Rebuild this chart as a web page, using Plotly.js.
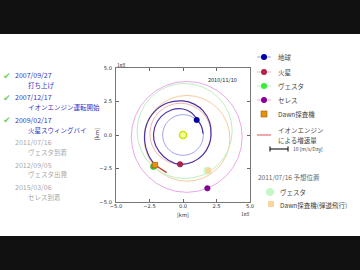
<!DOCTYPE html>
<html><head><meta charset="utf-8">
<script src="https://cdn.plot.ly/plotly-3.0.1.min.js"></script>
<style>html,body{margin:0;padding:0;background:#fff}#c{width:360px;height:270px}</style>
</head><body><div id="c"></div>
<script>
// ---- data (units: 1e8 km) ----
const orbitNames = ['地球','火星','Dawn弾道','ヴェスタ','セレス'];
const orbitCX = [0, -0.19, 0.30, 0.12, 0.28];
const orbitCY = [0, 0.09, -0.25, 0.30, -0.14];
const orbitR  = [1.52, 2.28, 3.20, 3.55, 4.14];
const orbitColors = ['#a4a4ec','#f2b4ae','#f6cc9e','#bdf0bd','#eaa8ea'];

const trajX = [1.496,1.378,1.057,0.609,0.000,-0.871,-1.639,-2.115,-2.167,-1.778,-1.085,-0.230,0.732,1.485,1.955,2.090,1.994,1.504,0.838,0.000,-1.120,-2.107,-2.734,-2.856,-2.581,-2.087];
const trajY = [0.105,0.642,1.174,1.673,1.940,1.867,1.376,0.567,-0.382,-1.245,-1.879,-2.188,-2.011,-1.485,-0.711,0.000,0.930,1.793,2.302,2.540,2.402,1.768,0.732,-0.504,-1.490,-2.238];

const thrustX = [-2.09,-1.22];
const thrustY = [-2.24,-2.81];

const sunPos = [0, 0];
const earthPos = [1.02, 1.12];
const marsPos = [-0.22, -2.19];
const vestaPos = [-2.21, -2.36];
const ceresPos = [1.82, -3.98];
const dawnPos = [-2.09, -2.24];
const vestaPredPos = [1.84, -2.66];
const dawnPredPos = [1.90, -2.66];

const tickVals = [-5, -2.5, 0, 2.5, 5];
const dateLabel = '2010/11/10';

const milestoneDates = ['2007/09/27','2007/12/17','2009/02/17','2011/07/16','2012/09/05','2015/03/06'];
const milestoneEvents = ['打ち上げ','イオンエンジン運転開始','火星スウィングバイ','ヴェスタ到着','ヴェスタ出発','セレス到着'];
const milestoneDone = [true,true,true,false,false,false];

const legendNames = ['地球','火星','ヴェスタ','セレス','Dawn探査機'];
const ionLabel = ['イオンエンジン','による増速量'];
const scaleLabel = '10 [m/s/Day]';
const predTitle = '2011/07/16 予想位置';
const predNames = ['ヴェスタ','Dawn探査機(弾道飛行)'];

// ---- build ----
const F = 'Noto Sans CJK JP, Noto Sans, sans-serif';
const traces = [];
function pt(p, sym, size, color, lc, lw){
  traces.push({x:[p[0]], y:[p[1]], mode:'markers', type:'scatter', showlegend:false, hoverinfo:'skip',
    marker:{symbol:sym, size:size, color:color, line:{color:lc, width:lw}}});
}
traces.push({x:trajX, y:trajY, mode:'lines', type:'scatter', showlegend:false, hoverinfo:'skip',
  line:{color:'#4a33a8', width:1.2, shape:'spline', smoothing:1}});
pt(vestaPredPos,'circle',8,'#c6f7c6','#c6f7c6',0);
pt(dawnPredPos,'square',5,'#f9d49c','#f9d49c',0);
pt(sunPos,'circle',7,'#f4ffa0','#c8e400',1.5);
pt(earthPos,'circle',5.5,'#0000a8','#000070',0.5);
pt(marsPos,'circle',5.5,'#b02250','#801030',0.5);
pt(ceresPos,'circle',5.5,'#880099','#550066',0.5);
pt(vestaPos,'circle',6,'#33cc33','#229922',0.5);
traces.push({x:thrustX, y:thrustY, mode:'lines', type:'scatter', showlegend:false, hoverinfo:'skip',
  line:{color:'#b8402a', width:1.3}});
pt(dawnPos,'square',5.5,'#e69010','#a05a00',0.6);

// legend overlay (pixel coordinate axes)
function lp(x,y,sym,size,color,lc,lw){
  traces.push({x:[x], y:[y], xaxis:'x2', yaxis:'y2', mode:'markers', type:'scatter', showlegend:false, hoverinfo:'skip', cliponaxis:false,
    marker:{symbol:sym,size:size,color:color,line:{color:lc,width:lw}}});
}
function ll(xs,ys,color,w){
  traces.push({x:xs, y:ys, xaxis:'x2', yaxis:'y2', mode:'lines', type:'scatter', showlegend:false, hoverinfo:'skip', cliponaxis:false,
    line:{color:color,width:w}});
}
const legY = [57, 72, 86, 100, 114];
const legMarkColors = ['#0000a8','#b02250','#33ee33','#880099'];
const legLineColors = ['#a4a4ec','#f2b4ae','#bdf0bd','#eaa8ea'];
for (let i=0;i<4;i++){ ll([257,271],[legY[i],legY[i]],legLineColors[i],1); lp(264,legY[i],'circle',6,legMarkColors[i],legMarkColors[i],0); }
lp(264,legY[4],'square',6,'#e69010','#a05a00',0.6);
ll([257,271],[135,135],'#e87878',1.3);
ll([270,288],[149,149],'#222',1.2);
ll([270,270],[146.5,151.5],'#222',1.2);
ll([288,288],[146.5,151.5],'#222',1.2);
lp(270,192,'circle',8,'#c6f7c6','#c6f7c6',0);
lp(271,204,'square',6,'#f9d49c','#f9d49c',0);

const shapes = [
  {type:'rect', xref:'paper', yref:'paper', x0:0, x1:1, y0:1-34/270, y1:1, fillcolor:'#111', line:{width:0}, layer:'below'},
  {type:'rect', xref:'paper', yref:'paper', x0:0, x1:1, y0:0, y1:1-236/270, fillcolor:'#111', line:{width:0}, layer:'below'}
];
for (let i=0;i<orbitR.length;i++){
  shapes.push({type:'circle', xref:'x', yref:'y', x0:orbitCX[i]-orbitR[i], x1:orbitCX[i]+orbitR[i],
    y0:orbitCY[i]-orbitR[i], y1:orbitCY[i]+orbitR[i], line:{color:orbitColors[i], width:1}, layer:'below'});
}

const ann = [];
function tx(x,y,t,size,color,anchor,angle){
  ann.push({xref:'x2', yref:'y2', x:x, y:y, text:t, showarrow:false, xanchor:anchor||'left', yanchor:'middle',
    font:{family:F, size:size, color:color}, textangle:angle||0, borderpad:0});
}
for (let i=0;i<milestoneDates.length;i++){
  const y = 75 + i*22.45;
  const c = milestoneDone[i] ? '#3434c4' : '#a8a8a8';
  if (milestoneDone[i]) tx(2, y, '✔', 9, '#6fd36f');
  tx(13.5, y, milestoneDates[i], 7, c);
  tx(27, y+9.6, milestoneEvents[i], 6.5, c);
}
for (let i=0;i<5;i++) tx(277, legY[i], legendNames[i], 6.5, '#444');
tx(277, 129.5, ionLabel[0], 6.5, '#444');
tx(277, 139.5, ionLabel[1], 6.5, '#444');
tx(292, 149, scaleLabel, 5, '#444');
tx(257, 176.5, predTitle, 6.5, '#666');
tx(279, 192, predNames[0], 6.5, '#444');
tx(279, 204.5, predNames[1], 6.5, '#444');
tx(238, 79.5, dateLabel, 5.5, '#222', 'right');
tx(116, 64, '1e8', 5, '#333');
tx(251, 213.5, '1e8', 5, '#333', 'right');
tx(183, 214.5, '[km]', 5.5, '#333', 'center');
tx(97, 134, '[km]', 5.5, '#333', 'center', -90);

const ax = {range:[-5,5], tickvals:tickVals, tickformat:'.1f', ticks:'inside', ticklen:3, tickcolor:'#666',
  mirror:'ticks', showline:true, linecolor:'#777', linewidth:1, showgrid:false, zeroline:false,
  tickfont:{family:'DejaVu Sans, sans-serif', size:5.2, color:'#333'}, fixedrange:true};
const layout = {
  width:360, height:270, margin:{l:0,r:0,t:0,b:0}, paper_bgcolor:'#fff', plot_bgcolor:'rgba(0,0,0,0)',
  showlegend:false,
  xaxis:Object.assign({domain:[116/360,250/360], anchor:'y', ticklabelstandoff:-1}, ax),
  yaxis:Object.assign({domain:[1-202/270,1-68/270], anchor:'x', ticklabelstandoff:2}, ax),
  xaxis2:{domain:[0,1], range:[0,360], visible:false, anchor:'y2', fixedrange:true},
  yaxis2:{domain:[0,1], range:[270,0], visible:false, anchor:'x2', fixedrange:true},
  shapes:shapes, annotations:ann
};
Plotly.newPlot('c', traces, layout, {staticPlot:true, displayModeBar:false});
</script></body></html>
